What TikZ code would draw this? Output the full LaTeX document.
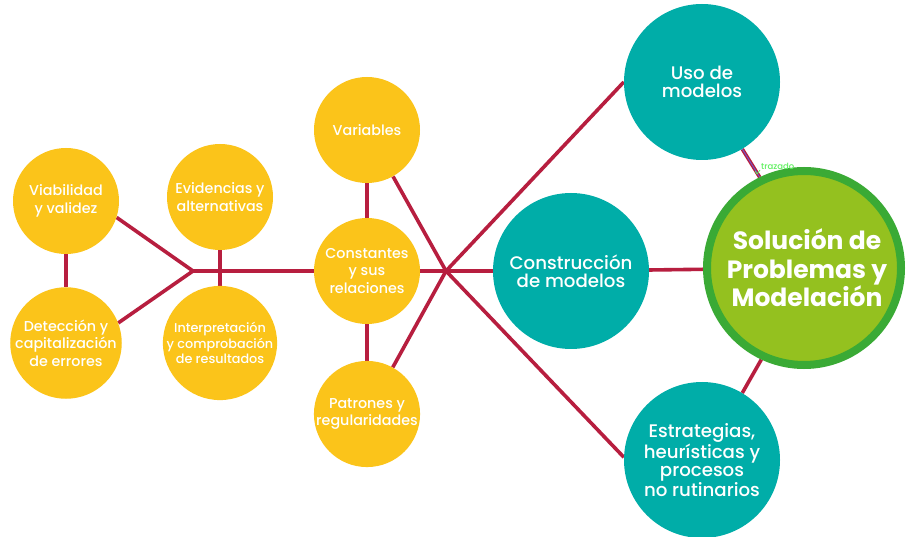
\documentclass[tikz,border=0pt]{standalone}
\usepackage{fontspec}
\setmainfont{Poppins Medium}[BoldFont={Poppins Bold}]
\usetikzlibrary{backgrounds}

\definecolor{crim}{RGB}{183,30,63}
\definecolor{gold}{RGB}{251,196,26}
\definecolor{tealmod}{RGB}{0,173,168}
\definecolor{leaf}{RGB}{148,193,31}
\definecolor{leafrim}{RGB}{58,170,53}
\definecolor{tracegreen}{RGB}{95,240,95}
\definecolor{traceblue}{RGB}{105,90,215}

\begin{document}
\begin{tikzpicture}[x=1pt,y=-1pt,
  bubble/.style={circle, inner sep=0pt, align=center, text=white},
  idea/.style={bubble, fill=gold, minimum size=106pt, font=\fontsize{14.3}{17.5}\selectfont},
  smallidea/.style={idea, font=\fontsize{12.8}{15.5}\selectfont},
  model/.style={bubble, fill=tealmod, minimum size=156pt, font=\fontsize{18.2}{18}\selectfont},
  core/.style={bubble, fill=leaf, draw=leafrim, line width=8pt, minimum size=194pt,
    font=\bfseries\fontsize{25}{28.5}\selectfont},
  link/.style={draw=crim, line width=3.6pt},
]
\useasboundingbox (0,0) rectangle (908,537);

% central topic
\node[core] (sol) at (804,268) {\hspace*{6pt}Solución de\\\hspace*{6pt}Problemas y\\\hspace*{6pt}Modelación};

% model-related topics
\node[model] (uso)    at (702,82)  {Uso de\\modelos};
\node[model] (constr) at (571,271) {Construcción\\de modelos};
\node[model] (estr)   at (702,460) {Estrategias,\\heurísticas y\\procesos\\no rutinarios};

% algebraic ideas
\node[idea] (var)   at (367,130) {Variables};
\node[idea] (const) at (367,271) {Constantes\\y sus\\relaciones};
\node[idea] (patr)  at (367,414) {Patrones y\\regularidades};

% validation ideas
\node[idea]      (evid)   at (220,197) {Evidencias y\\alternativas};
\node[smallidea] (interp) at (220,343) {Interpretación\\y comprobación\\de resultados};
\node[idea]      (viab)   at (66,201)  {Viabilidad\\y validez};
\node[idea]      (detec)  at (66,343)  {Detección y\\capitalización\\de errores};

% junction points of the connectors
\coordinate (hubR) at (446,271);
\coordinate (hubL) at (193,271);

% path tag
\node[text=tracegreen, font=\fontsize{8.5}{8.5}\selectfont, anchor=west, inner sep=0pt]
  (tag) at (761,166) {trazado};

\begin{scope}[on background layer]
  \fill[white] (0,0) rectangle (908,537);

  % right star
  \draw[link] (hubR) -- (const.east);
  \draw[link] (hubR) -- (constr);
  \draw[link] (hubR) -- (var);
  \draw[link] (hubR) -- (patr);
  \draw[link] (hubR) -- (uso.180);
  \draw[link] (hubR) -- (estr.178);

  % links to the central topic
  \draw[link] (constr) -- (sol);
  \draw[link] (uso.-59) -- (sol.116);
  \draw[link] (estr.59) -- (sol.-115);
  \draw[traceblue, line width=0.8pt] (uso.-59) -- (sol.116);

  % vertical links
  \draw[link] (var) -- (const);
  \draw[link] (const) -- (patr);
  \draw[link] (evid) -- (interp);
  \draw[link] (viab) -- (detec);

  % left star
  \draw[link] (hubL) -- (const.west);
  \draw[link] (hubL) -- (viab.-18);
  \draw[link] (hubL) -- (detec.21);
\end{scope}

% end marker of the tagged path
\draw[tracegreen, line width=0.7pt] (755,171) -- (757,174) -- (760,170);
\end{tikzpicture}
\end{document}
